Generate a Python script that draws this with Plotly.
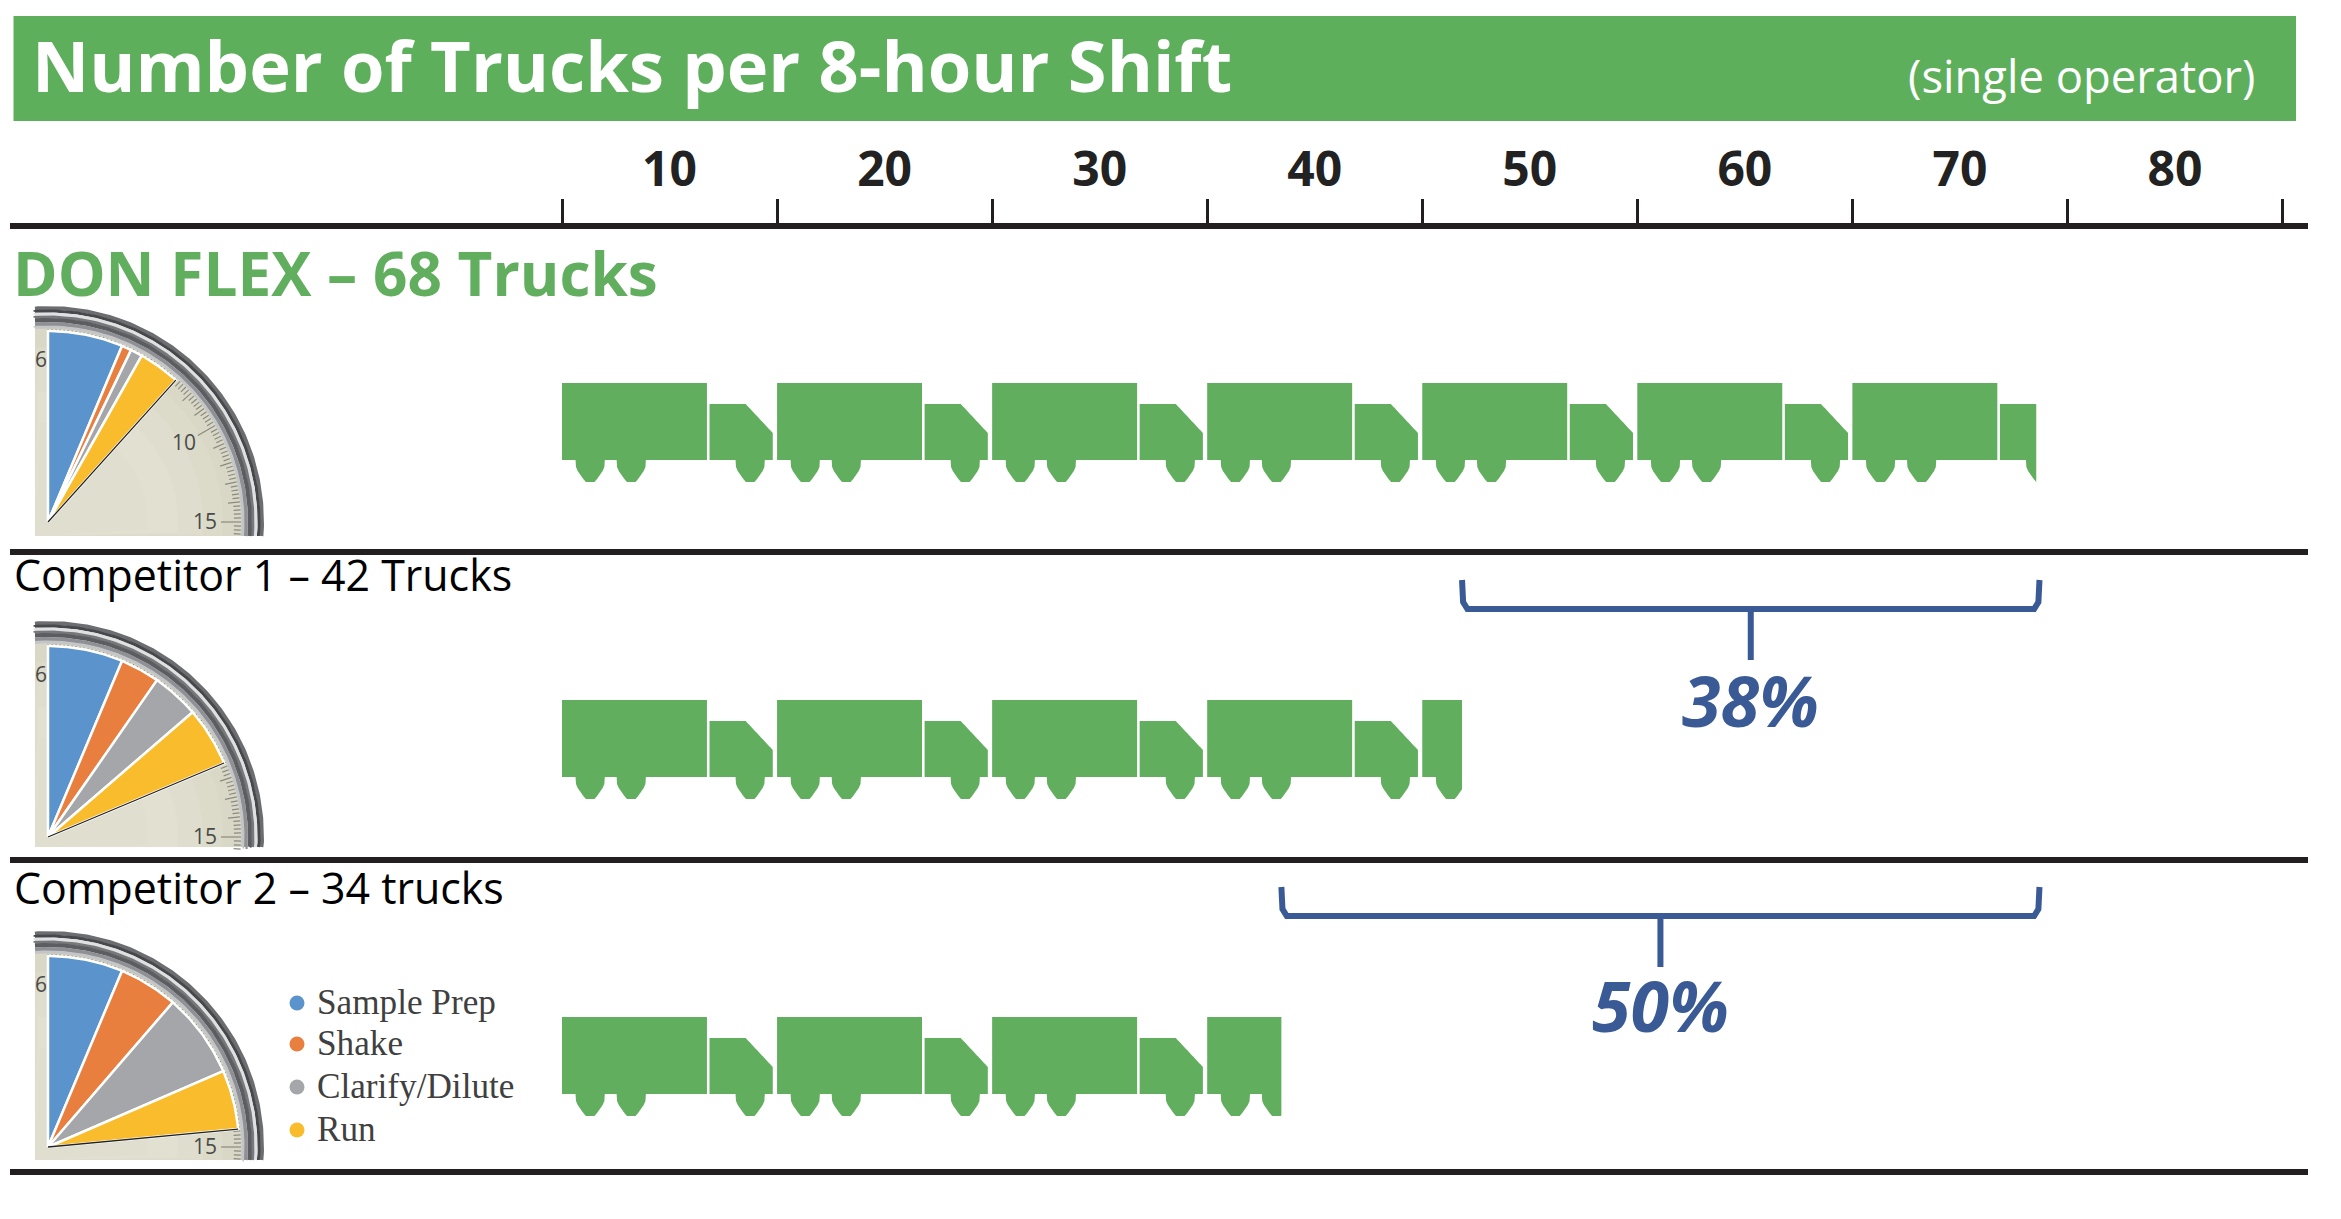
"""Number of trucks per 8-hour shift, with a stopwatch gauge for each instrument."""
import numpy as np
import plotly.graph_objects as go

# Data
instruments = ['DON FLEX – 68 Trucks', 'Competitor 1 – 42 Trucks', 'Competitor 2 – 34 trucks']
bar_ends = [68.55, 41.85, 33.45]
steps = ['Sample Prep', 'Shake', 'Clarify/Dilute', 'Run']
minutes = [
    [3.8, 0.5, 0.6, 2.1],
    [3.8, 2.0, 2.4, 3.0],
    [3.8, 3.0, 4.3, 3.0],
]
savings = ['38%', '50%']
tick_labels = ['10', '20', '30', '40', '50', '60', '70', '80']
tick_marks = [0, 10, 20, 30, 40, 50, 60, 70, 80]

# Colours and page layout
W, H = 2341, 1219
GREEN = '#62AE5F'
HEAD = '#5DAF5C'
BLUE = '#3A5A95'
INK = '#231F20'
step_colors = ['#5B94CC', '#E97F3E', '#A5A6A9', '#F8BC2C']
truck_tops = [383, 700, 1017]
gauge_centers = [522, 837, 1147]
gauge_bottoms = [536, 847, 1160]
row_rules = [226, 552, 860, 1172]
label_y = [273, 574, 887]
GX = 48
AXL, AXR = 562, 2282.5


def dense(points, n=30):
    """Split the edges of a polygon so clamping x keeps its outline."""
    pts = np.array(points + [points[0]], dtype=float)
    xs, ys = [], []
    for a, b in zip(pts[:-1], pts[1:]):
        t = np.linspace(0, 1, n, endpoint=False)
        xs.extend(a[0] + (b[0] - a[0]) * t)
        ys.extend(a[1] + (b[1] - a[1]) * t)
    return xs, ys


def wheel(cx):
    left = [(cx - 0.68, 77), (cx - 0.66, 84), (cx - 0.58, 88), (cx - 0.45, 92), (cx - 0.32, 96), (cx - 0.2, 99)]
    right = [(cx + 0.2, 99), (cx + 0.32, 96), (cx + 0.45, 92), (cx + 0.58, 88), (cx + 0.66, 84), (cx + 0.68, 77)]
    return left + right


# one truck, x in truck units (10 = one truck pitch), y in px below the box top
truck_parts = [
    [(0, 0), (6.74, 0), (6.74, 77)] + wheel(3.22)[::-1] + wheel(1.31)[::-1] + [(0, 77)],
    [(6.86, 21), (8.54, 21), (9.8, 50), (9.8, 77)] + wheel(8.75)[::-1] + [(6.86, 77)],
]


def truck_row(end, top):
    xs, ys = [], []
    for start in range(0, int(end), 10):
        for part in truck_parts:
            px, py = dense(part)
            xs += list(np.minimum(np.array(px) + start, end)) + [None]
            ys += list(np.array(py) + top) + [None]
    return xs, ys


def arc(cy, r, bottom, a0=-4.5, a1=94.5):
    ang = np.radians(np.linspace(a0, a1, 160))
    x = np.clip(GX + r * np.sin(ang), 35, None)
    y = np.clip(cy - r * np.cos(ang), None, bottom)
    return x, y


fig = go.Figure()

# trucks
for end, top in zip(bar_ends, truck_tops):
    tx, ty = truck_row(end, top)
    fig.add_trace(go.Scatter(x=tx, y=ty, mode='lines', fill='toself', fillcolor=GREEN,
                             line={'width': 0, 'color': GREEN, 'simplify': False}, hoverinfo='skip',
                             xaxis='x', yaxis='y'))

# savings brackets
for i, pct in enumerate(savings):
    x0, x1 = bar_ends[i + 1], bar_ends[0] + 0.15
    mid = (x0 + x1) / 2
    top = [580, 887][i]
    fig.add_trace(go.Scatter(
        x=[x0, x0 + 0.05, x0 + 0.25, mid, mid, mid, x1 - 0.25, x1 - 0.05, x1],
        y=[top, top + 22, top + 29, top + 29, top + 80, top + 29, top + 29, top + 22, top],
        mode='lines', line={'color': BLUE, 'width': 6}, hoverinfo='skip', xaxis='x', yaxis='y'))
    fig.add_annotation(x=mid, xref='x', y=[700, 1005][i], yref='y', text=f'<b><i>{pct}</i></b>',
                       showarrow=False, font={'family': 'Open Sans', 'size': 70, 'color': BLUE})

# gauges
rim = [(214, 4, '#6C6D71'), (211, 3, '#47484C'), (208, 3, '#DFE0E2'), (205, 3, '#77787C'),
       (202, 4, '#5C5D61'), (198, 4, '#8F9095'), (195, 3, '#C4C5C7')]
dial_shades = [(194, '#D9D8C7'), (175, '#DCDBCA'), (155, '#DFDECE'), (130, '#E1E0D1'), (100, '#E0DFCF')]
for row, cy in enumerate(gauge_centers):
    bottom = gauge_bottoms[row]
    fig.add_shape(type='rect', xref='x2', yref='y', x0=35, x1=GX + 205, y0=cy - 205, y1=bottom,
                  fillcolor='#DCDBCA', line_width=0, layer='below')
    # soft dial shading
    for r, c in dial_shades:
        ax, ay = arc(cy, r, bottom)
        fig.add_trace(go.Scatter(x=np.r_[35, ax, 35], y=np.r_[bottom, ay, bottom], mode='lines', fill='toself',
                                 fillcolor=c, line_width=0, hoverinfo='skip', xaxis='x2', yaxis='y'))
    # white page outside the rim
    ox, oy = arc(cy, 216, bottom)
    fig.add_trace(go.Scatter(x=np.r_[35, ox, GX + 225, GX + 225, 35],
                             y=np.r_[cy - 225, oy, bottom, cy - 225, cy - 225],
                             mode='lines', fill='toself', fillcolor='white', line_width=0, hoverinfo='skip',
                             xaxis='x2', yaxis='y'))
    # minute scale
    sx, sy = [], []
    for deg in np.arange(0, 94, 1.2):
        a = np.radians(deg)
        inner = 173 if deg % 30 < 0.1 else (181 if deg % 6 < 0.1 else 186)
        sx += [GX + inner * np.sin(a), GX + 193 * np.sin(a), None]
        sy += [cy - inner * np.cos(a), cy - 193 * np.cos(a), None]
    fig.add_trace(go.Scatter(x=sx, y=sy, mode='lines', line={'color': '#8A8A80', 'width': 1.2},
                             hoverinfo='skip', xaxis='x2', yaxis='y'))
    # printed dial numbers sit under the wedges
    fig.add_trace(go.Scatter(x=[41, GX + 136, GX + 157], y=[cy - 160, cy - 77, cy + 2], mode='text',
                             text=['6', '10', '15'], textposition='middle center',
                             textfont={'family': 'Open Sans', 'size': 21, 'color': '#4A4A48'},
                             hoverinfo='skip', xaxis='x2', yaxis='y'))
    for r, w, c in rim:
        rx, ry = arc(cy, r, bottom)
        fig.add_trace(go.Scatter(x=rx, y=ry, mode='lines', line={'color': c, 'width': w},
                                 hoverinfo='skip', xaxis='x2', yaxis='y'))
    # step wedges, one minute is 6 degrees on the dial
    angle = 0
    for m, c in zip(minutes[row], step_colors):
        ang = np.radians(np.linspace(angle, angle + m * 6, 30))
        fig.add_trace(go.Scatter(x=np.r_[GX, GX + 191 * np.sin(ang), GX],
                                 y=np.r_[cy, cy - 191 * np.cos(ang), cy],
                                 mode='lines', fill='toself', fillcolor=c, line={'color': 'white', 'width': 2.5},
                                 hoverinfo='skip', xaxis='x2', yaxis='y'))
        angle += m * 6
    a = np.radians(angle)
    fig.add_trace(go.Scatter(x=[GX, GX + 191 * np.sin(a)], y=[cy, cy - 191 * np.cos(a)], mode='lines',
                             line={'color': '#222222', 'width': 1.3}, hoverinfo='skip', xaxis='x2', yaxis='y'))

# legend beside the last gauge
fig.add_trace(go.Scatter(x=[297] * 4, y=[1003, 1044, 1087, 1130], mode='markers',
                         marker={'color': step_colors, 'size': 15}, hoverinfo='skip', xaxis='x2', yaxis='y'))
fig.add_trace(go.Scatter(x=[317] * 4, y=[1005, 1046, 1089, 1132], mode='text', text=steps,
                         textposition='middle right',
                         textfont={'family': 'Liberation Serif', 'size': 35.2, 'color': '#404040'},
                         hoverinfo='skip', xaxis='x2', yaxis='y'))

# header band and row rules
fig.add_shape(type='rect', xref='x2', yref='y', x0=13.5, x1=2296, y0=16, y1=121, fillcolor=HEAD, line_width=0)
for y in row_rules:
    fig.add_shape(type='line', xref='x2', yref='y', x0=10, x1=2308, y0=y, y1=y, line={'color': INK, 'width': 6})

fig.add_annotation(x=30, xref='x2', y=65, yref='y', xanchor='left', text='<b>Number of Trucks per 8-hour Shift</b>',
                   showarrow=False, font={'family': 'Open Sans', 'size': 70.4, 'color': 'white'})
fig.add_annotation(x=2257, xref='x2', y=75, yref='y', xanchor='right', text='(single operator)',
                   showarrow=False, font={'family': 'Open Sans', 'size': 45.4, 'color': 'white'})
for i, name in enumerate(instruments):
    fig.add_annotation(x=[11, 12, 12][i], xref='x2', y=label_y[i], yref='y', xanchor='left',
                       text=f'<b>{name}</b>' if i == 0 else name, showarrow=False,
                       font={'family': 'Open Sans', 'size': 60.3 if i == 0 else 42.9,
                             'color': GREEN if i == 0 else '#000000'})

fig.update_layout(
    width=W, height=H, showlegend=False, paper_bgcolor='white', plot_bgcolor='rgba(0,0,0,0)',
    margin={'l': 0, 'r': 0, 't': 0, 'b': 0},
    xaxis={
        'domain': [AXL / W, AXR / W], 'range': [0, 80], 'anchor': 'free', 'position': 1 - 226 / H, 'side': 'top',
        'showgrid': False, 'zeroline': False, 'showline': False,
        'tickmode': 'array', 'tickvals': [v - 5 for v in tick_marks[1:]], 'ticktext': tick_labels,
        'ticks': '', 'ticklabelstandoff': 30,
        'tickfont': {'family': 'Open Sans', 'size': 48, 'color': '#222222', 'weight': 'bold'},
        'minor': {'tickmode': 'array', 'tickvals': tick_marks, 'ticks': 'outside', 'ticklen': 27,
                  'tickwidth': 2.5, 'tickcolor': INK, 'showgrid': False},
    },
    xaxis2={'domain': [0, 1], 'range': [0, W], 'visible': False, 'anchor': 'y'},
    yaxis={'domain': [0, 1], 'range': [H, 0], 'visible': False, 'anchor': 'x2'},
)

fig.write_html("out.html", config={'displayModeBar': False}, post_script="document.body.style.margin='0';")
